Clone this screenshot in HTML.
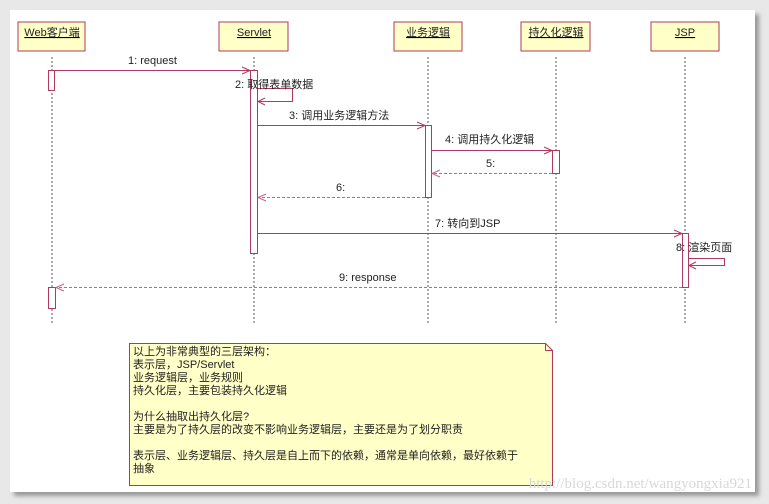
<!DOCTYPE html>
<html><head><meta charset="utf-8"><style>
body{margin:0;width:769px;height:504px;background:#e8e8e8;overflow:hidden}
svg{display:block}
text{font-family:"Liberation Sans","Noto Sans CJK SC",sans-serif;font-size:11px;fill:#222}
</style></head><body>
<svg width="769" height="504" viewBox="0 0 769 504">
<defs><filter id="s" x="-5%" y="-5%" width="110%" height="110%"><feDropShadow dx="4" dy="4" stdDeviation="2" flood-color="#777" flood-opacity="0.7"/></filter></defs>
<rect x="10" y="10" width="745" height="482" fill="#fff" filter="url(#s)"/>
<g stroke="#555" stroke-dasharray="2,2" stroke-width="1">
<line x1="52" y1="57" x2="52" y2="325"/><line x1="254" y1="57" x2="254" y2="325"/>
<line x1="428" y1="57" x2="428" y2="325"/><line x1="556" y1="57" x2="556" y2="325"/>
<line x1="685" y1="57" x2="685" y2="325"/>
</g>
<g fill="#ffffc8" stroke="#b03a5e">
<rect x="18" y="22" width="67" height="29"/><rect x="219" y="22" width="69" height="29"/>
<rect x="394" y="22" width="68" height="29"/><rect x="521" y="22" width="69" height="29"/>
<rect x="651" y="22" width="68" height="29"/>
</g>
<g text-anchor="middle" text-decoration="underline">
<text x="52" y="36">Web客户端</text><text x="254" y="36">Servlet</text>
<text x="428" y="36">业务逻辑</text><text x="556" y="36">持久化逻辑</text><text x="685" y="36">JSP</text>
</g>
<g fill="#fff" stroke="#b03a5e">
<rect x="48.5" y="70.5" width="6" height="20"/><rect x="250.5" y="70.5" width="7" height="183"/>
<rect x="425.5" y="125.5" width="6" height="72"/><rect x="552.5" y="150.5" width="7" height="23"/>
<rect x="682.5" y="233.5" width="6" height="54"/><rect x="48.5" y="287.5" width="7" height="21"/>
</g>
<g stroke="#b03a5e" fill="none">
<path d="M54 70.5H250M242 67l8 3.5-8 3.5"/>
<path d="M257 88.5H292.5V101.5H258M265 98l-7 3.5 7 3.5"/>
<path d="M257 125.5H425M417 122l8 3.5-8 3.5"/>
<path d="M431 150.5H552M544 147l8 3.5-8 3.5"/>
<path d="M257 233.5H682M674 230l8 3.5-8 3.5"/>
<path d="M688 258.5H724.5V265.5H689M696 262l-7 3.5 7 3.5"/>
</g>
<g stroke="#d06080" fill="none" stroke-dasharray="3,2">
<path d="M552 173.5H432"/><path d="M425 197.5H258"/><path d="M682 287.5H56"/>
</g>
<g stroke="#d06080" fill="none">
<path d="M440 170l-8 3.5 8 3.5M266 194l-8 3.5 8 3.5M64 284l-8 3.5 8 3.5"/>
</g>
<text x="128" y="64">1: request</text>
<text x="235" y="88">2: 取得表单数据</text>
<text x="289" y="119">3: 调用业务逻辑方法</text>
<text x="445" y="143">4: 调用持久化逻辑</text>
<text x="486" y="167">5:</text>
<text x="336" y="191">6:</text>
<text x="435" y="227">7: 转向到JSP</text>
<text x="676" y="251">8: 渲染页面</text>
<text x="339" y="281">9: response</text>
<path d="M129.5 343.5H545.5L552.5 350.5V485.5H129.5Z" fill="#ffffc8" stroke="#b03a5e"/>
<path d="M545.5 343.5V350.5H552.5" fill="none" stroke="#b03a5e"/>
<g font-size="11">
<text x="133" y="355">以上为非常典型的三层架构：</text>
<text x="133" y="368">表示层，JSP/Servlet</text>
<text x="133" y="381">业务逻辑层，业务规则</text>
<text x="133" y="394">持久化层，主要包装持久化逻辑</text>
<text x="133" y="420">为什么抽取出持久化层?</text>
<text x="133" y="433">主要是为了持久层的改变不影响业务逻辑层，主要还是为了划分职责</text>
<text x="133" y="459">表示层、业务逻辑层、持久层是自上而下的依赖，通常是单向依赖，最好依赖于</text>
<text x="133" y="472">抽象</text>
</g>
<text x="752" y="488" text-anchor="end" style="font-family:'Liberation Serif',serif;font-size:15px;fill:#d8d8d8">http://blog.csdn.net/wangyongxia921</text>
</svg>
</body></html>
